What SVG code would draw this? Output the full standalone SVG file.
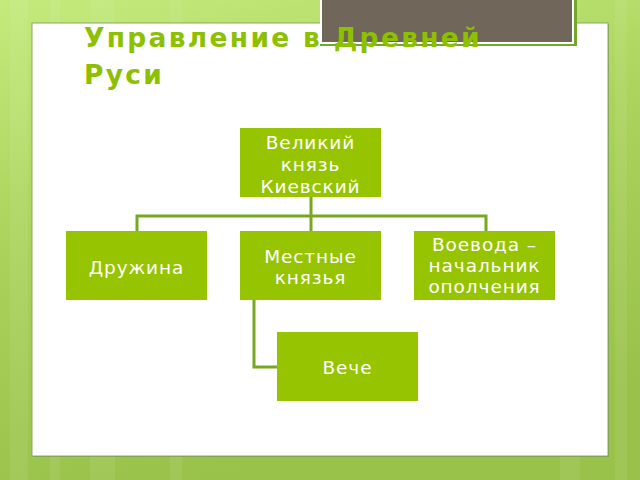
<svg xmlns="http://www.w3.org/2000/svg" width="640" height="480" viewBox="0 0 640 480">
<defs>
<linearGradient id="bg" x1="0" y1="0" x2="0.3" y2="1">
<stop offset="0" stop-color="#c4ea7c"/>
<stop offset="0.5" stop-color="#a8d25a"/>
<stop offset="1" stop-color="#98c24a"/>
</linearGradient>
<style>
.node rect{fill:#97c400;}
.node text{fill:#ffffff;font-family:"DejaVu Sans",Verdana,sans-serif;font-size:18.5px;text-anchor:middle;letter-spacing:0.9px;}
.conn{fill:none;stroke:#78a822;stroke-width:3;}
.title{fill:#8cc000;font-family:"DejaVu Sans",Verdana,sans-serif;font-size:26.5px;font-weight:bold;letter-spacing:2.3px;}
.stripe{fill:#ffffff;opacity:0.07;}
</style>
</defs>
<rect x="0" y="0" width="640" height="480" fill="url(#bg)"/>
<rect class="stripe" x="10" y="0" width="18" height="480"/>
<rect class="stripe" x="50" y="0" width="10" height="480"/>
<rect class="stripe" x="90" y="0" width="25" height="480"/>
<rect class="stripe" x="170" y="0" width="12" height="480"/>
<rect class="stripe" x="560" y="0" width="20" height="480"/>
<rect class="stripe" x="615" y="0" width="12" height="480"/>
<rect x="33" y="24" width="576" height="433" fill="#5f7f3f" opacity="0.5"/>
<rect x="32" y="23" width="576" height="433" fill="#ffffff" stroke="#8aa86a" stroke-width="1"/>
<g id="title-box">
<rect x="320" y="-6" width="257" height="52" fill="#6fa82a"/>
<rect x="320" y="-6" width="254" height="50" fill="#ffffff"/>
<rect x="322" y="-6" width="250" height="48" fill="#706659"/>
</g>
<text class="title" x="84" y="47">Управление в Древней</text>
<text class="title" x="84" y="84">Руси</text>
<g id="connectors">
<path class="conn" d="M311,197 V231 M137,231 V216 H486 V231 M254,300 V367 H277"/>
</g>
<g id="n1" class="node">
<rect x="240" y="128" width="141" height="69"/>
<text x="310.5" y="149">Великий</text>
<text x="310.5" y="171">князь</text>
<text x="310.5" y="193">Киевский</text>
</g>
<g id="n2" class="node">
<rect x="66" y="231" width="141" height="69"/>
<text x="136.5" y="274">Дружина</text>
</g>
<g id="n3" class="node">
<rect x="240" y="231" width="141" height="69"/>
<text x="310.5" y="263">Местные</text>
<text x="310.5" y="284">князья</text>
</g>
<g id="n4" class="node">
<rect x="414" y="231" width="141" height="69"/>
<text x="484.5" y="251">Воевода –</text>
<text x="484.5" y="272">начальник</text>
<text x="484.5" y="293">ополчения</text>
</g>
<g id="n5" class="node">
<rect x="277" y="332" width="141" height="69"/>
<text x="347.5" y="374">Вече</text>
</g>
</svg>
